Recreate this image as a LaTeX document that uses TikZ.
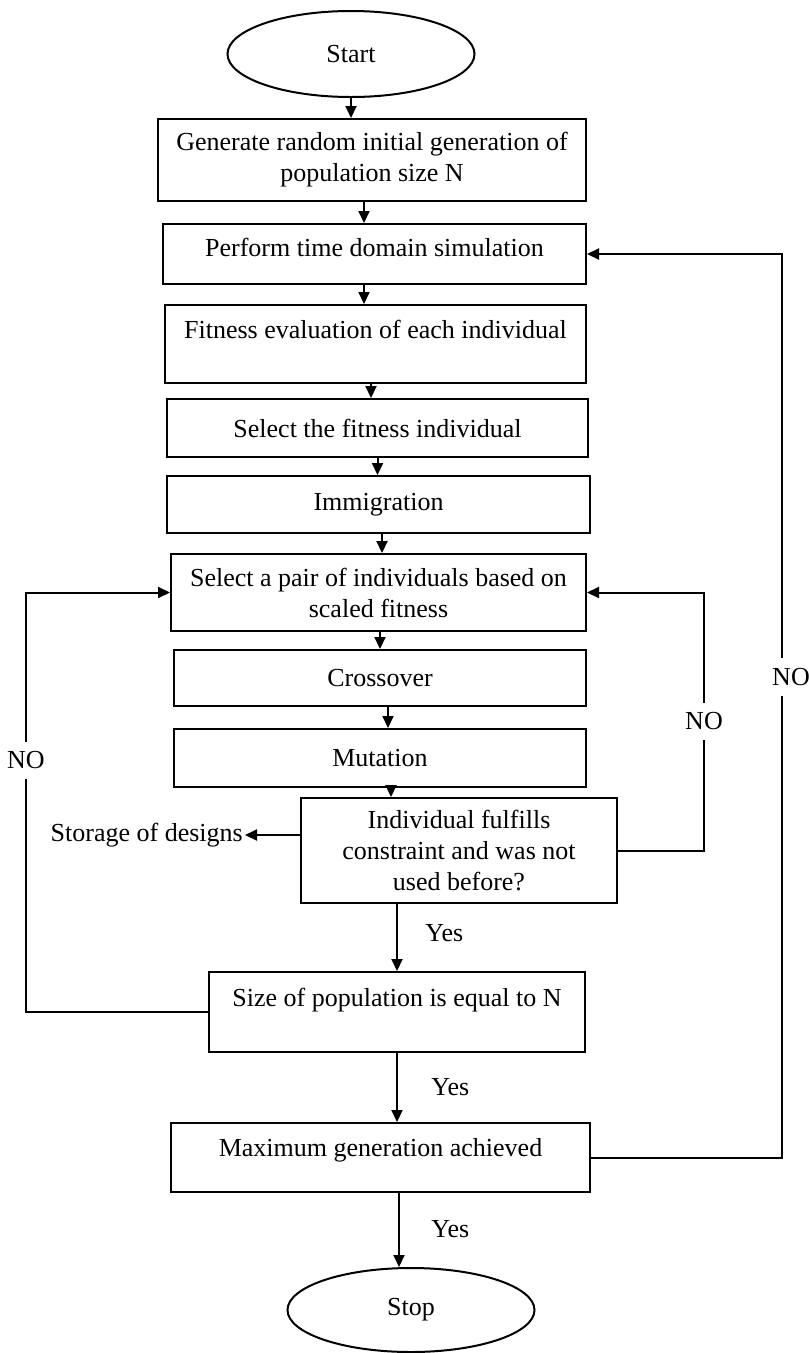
\documentclass[tikz,border=0pt]{standalone}
\usepackage{fontspec}
\setmainfont{Liberation Serif}
\usepackage{tikz}
\usetikzlibrary{shapes,arrows.meta,positioning}

\begin{document}
\begin{tikzpicture}[
    x=1pt, y=-1pt,
    font=\fontsize{26}{31}\selectfont,
    block/.style={rectangle, draw, line width=2pt, align=center, inner sep=3pt},
    term/.style={ellipse, draw, line width=2pt, minimum width=247pt, minimum height=86pt, inner sep=0pt},
    flow/.style={-{Triangle[length=12pt,width=11pt]}, line width=2pt},
    nolabel/.style={fill=white, inner xsep=1pt, inner ysep=10pt}
]
\useasboundingbox (0,0) rectangle (809,1353);

\node[term] (start) at (351,54) {Start};
\node[block, minimum width=428pt, minimum height=82pt] (gen) at (372,160) {Generate random initial generation of\\population size N};
\node[block, minimum width=423pt, minimum height=60pt, text height=18pt, text depth=14pt] (sim) at (374.5,254) {Perform time domain simulation};
\node[block, minimum width=421pt, minimum height=78pt, text height=18pt, text depth=30pt] (fit) at (375.5,344) {Fitness evaluation of each individual};
\node[block, minimum width=421pt, minimum height=58pt] (sel) at (377.5,428) {Select the fitness individual};
\node[block, minimum width=423pt, minimum height=57pt] (imm) at (378.5,504.5) {Immigration};
\node[block, minimum width=415pt, minimum height=77pt] (pair) at (378.5,592.5) {Select a pair of individuals based on\\scaled fitness};
\node[block, minimum width=412pt, minimum height=56pt] (cross) at (380,678) {Crossover};
\node[block, minimum width=412pt, minimum height=58pt] (mut) at (380,758) {Mutation};
\node[block, minimum width=316pt, minimum height=105pt] (check) at (459,850.5) {Individual fulfills\\constraint and was not\\used before?};
\node[anchor=east, inner sep=2pt] (store) at (245,835) {Storage of designs};
\node[block, minimum width=376pt, minimum height=80pt, text height=18pt, text depth=30pt] (size) at (397,1012) {Size of population is equal to N};
\node[block, minimum width=419pt, minimum height=69pt, text height=18pt, text depth=21pt] (maxgen) at (380.5,1157.5) {Maximum generation achieved};
\node[term, minimum height=84pt] (stop) at (411,1310) {Stop};

\draw[flow] (start.south) -- (start.south |- gen.north);
\draw[flow] ([xshift=-8pt]gen.south) -- ([xshift=-8pt]gen.south |- sim.north);
\draw[flow] ([xshift=-10.5pt]sim.south) -- ([xshift=-10.5pt]sim.south |- fit.north);
\draw[flow] ([xshift=-4.5pt]fit.south) -- ([xshift=-4.5pt]fit.south |- sel.north);
\draw[flow] (sel.south) -- (sel.south |- imm.north);
\draw[flow] ([xshift=3.5pt]imm.south) -- ([xshift=3.5pt]imm.south |- pair.north);
\draw[flow] ([xshift=1.5pt]pair.south) -- ([xshift=1.5pt]pair.south |- cross.north);
\draw[flow] ([xshift=8pt]cross.south) -- ([xshift=8pt]cross.south |- mut.north);
\draw[flow] ([xshift=11pt]mut.south) -- ([xshift=11pt]mut.south |- check.north);
\draw[flow] ([xshift=-62pt]check.south) -- ([xshift=-62pt]check.south |- size.north) node[pos=0.43, right=24pt] {Yes};
\draw[flow] (size.south) -- (size.south |- maxgen.north) node[pos=0.49, right=30pt] {Yes};
\draw[flow] ([xshift=18.5pt]maxgen.south) -- ([xshift=18.5pt]maxgen.south |- stop.north) node[pos=0.49, right=28pt] {Yes};

\draw[flow] ([yshift=15.5pt]check.west) -- (store);
\draw[flow] (check.east) -- ++(86,0) |- node[pos=0.25, nolabel] {NO} (pair.east);
\draw[flow] (size.west) -- ++(-182,0) |- node[pos=0.3, nolabel] {NO} (pair.west);
\draw[flow] (maxgen.east) -- ++(191,0) |- node[pos=0.266, nolabel, xshift=9pt] {NO} (sim.east);

\end{tikzpicture}
\end{document}
